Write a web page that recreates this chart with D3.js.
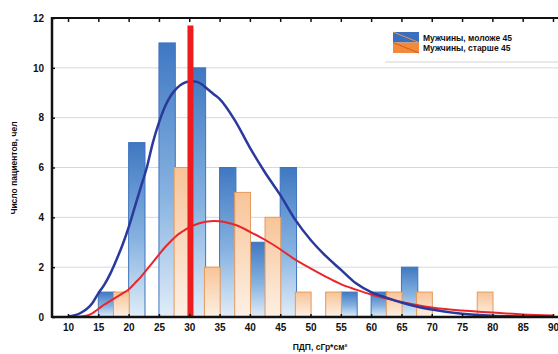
<!DOCTYPE html>
<html>
<head>
<meta charset="utf-8">
<script src="https://cdn.jsdelivr.net/npm/d3@7"></script>
<style>
  html, body { margin: 0; padding: 0; background: #fff; }
  svg { display: block; }
  text { font-family: "Liberation Sans", Arial, sans-serif; font-weight: bold; fill: #111; }
</style>
</head>
<body>
<svg id="chart" width="558" height="354"></svg>
<script>
// ---------------- DATA ----------------
const binStarts = [15, 20, 25, 30, 35, 40, 45, 50, 55, 60, 65, 70, 75];
const youngerCounts = [1, 7, 11, 10, 6, 3, 6, 0, 1, 1, 2, 0, 0];
const olderCounts   = [1, 0, 6, 2, 5, 4, 1, 1, 0, 1, 1, 0, 1];
const seriesNames = ["Мужчины, моложе 45", "Мужчины, старше 45"];

const youngerFitX = [10, 12, 14, 15, 16, 17, 18, 19, 20, 21, 22, 23, 24, 25, 26, 27, 28, 29, 30, 31, 32, 33, 34, 35, 37.5, 40, 42.5, 45, 47.5, 50, 52.5, 55, 57.5, 60, 62.5, 65, 67.5, 70, 75, 80, 85, 90];
const youngerFitY = [0.02, 0.15, 0.55, 0.95, 1.3, 1.75, 2.3, 2.9, 3.6, 4.4, 5.2, 6.0, 7.0, 7.8, 8.45, 8.9, 9.2, 9.38, 9.45, 9.45, 9.35, 9.15, 8.95, 8.75, 7.9, 6.8, 5.8, 4.9, 3.9, 3.1, 2.45, 1.9, 1.35, 1.0, 0.78, 0.58, 0.42, 0.3, 0.13, 0.05, 0.02, 0.01];

const olderFitX = [10, 12, 13, 14, 15, 16, 17, 18, 19, 20, 21, 22, 23, 24, 25, 26, 27, 28, 29, 30, 31, 32, 33, 34, 35, 36, 37, 38, 40, 42.5, 45, 47.5, 50, 52.5, 55, 57.5, 60, 62.5, 65, 67.5, 70, 75, 80, 85, 90];
const olderFitY = [0, 0.02, 0.05, 0.15, 0.32, 0.5, 0.65, 0.8, 0.95, 1.1, 1.35, 1.6, 1.9, 2.2, 2.5, 2.8, 3.05, 3.28, 3.45, 3.6, 3.7, 3.78, 3.83, 3.85, 3.84, 3.8, 3.74, 3.66, 3.42, 3.1, 2.72, 2.3, 1.95, 1.62, 1.32, 1.1, 0.9, 0.74, 0.6, 0.48, 0.38, 0.26, 0.18, 0.1, 0.06];

const refLineX = 30.2;
const refLineTop = 11.7;

const xTicks = [10, 15, 20, 25, 30, 35, 40, 45, 50, 55, 60, 65, 70, 75, 80, 85, 90];
const yTicks = [0, 2, 4, 6, 8, 10, 12];
const xTitle = "ПДП, сГр*см²";
const yTitle = "Число пациентов, чел";

// ---------------- CHART ----------------
const svg = d3.select("#chart");
const plotL = 52, plotR = 558, plotT = 18, plotB = 317;
const x = d3.scaleLinear().domain([10, 90]).range([68, 553]);
const y = d3.scaleLinear().domain([0, 12]).range([plotB, plotT]);
const binW = 5;

const defs = svg.append("defs");
const gB = defs.append("linearGradient").attr("id", "gradBlue").attr("x1", 0).attr("y1", 0).attr("x2", 0).attr("y2", 1);
gB.append("stop").attr("offset", "0%").attr("stop-color", "#3f78c2");
gB.append("stop").attr("offset", "55%").attr("stop-color", "#86b2e0");
gB.append("stop").attr("offset", "100%").attr("stop-color", "#e1edf9");
const gO = defs.append("linearGradient").attr("id", "gradOrange").attr("x1", 0).attr("y1", 0).attr("x2", 0).attr("y2", 1);
gO.append("stop").attr("offset", "0%").attr("stop-color", "#f8c497");
gO.append("stop").attr("offset", "100%").attr("stop-color", "#fdf0e5");

// gridlines
svg.append("g").selectAll("line").data(yTicks.filter(d => d > 0 && d < 12)).join("line")
  .attr("x1", plotL).attr("x2", plotR)
  .attr("y1", d => y(d)).attr("y2", d => y(d))
  .attr("stroke", "#d8d8d8").attr("stroke-width", 1);

// bars
const blueData = binStarts.map((b, i) => ({b, v: youngerCounts[i]})).filter(d => d.v > 0);
const orangeData = binStarts.map((b, i) => ({b, v: olderCounts[i]})).filter(d => d.v > 0);

svg.append("g").selectAll("rect").data(blueData).join("rect")
  .attr("x", d => x(d.b))
  .attr("width", d => x(d.b + binW * 0.54) - x(d.b))
  .attr("y", d => y(d.v))
  .attr("height", d => y(0) - y(d.v))
  .attr("fill", "url(#gradBlue)")
  .attr("stroke", "#3f74bd").attr("stroke-width", 1);

svg.append("g").selectAll("rect").data(orangeData).join("rect")
  .attr("x", d => x(d.b + binW * 0.5))
  .attr("width", d => x(d.b + binW * 1.02) - x(d.b + binW * 0.5))
  .attr("y", d => y(d.v))
  .attr("height", d => y(0) - y(d.v))
  .attr("fill", "url(#gradOrange)")
  .attr("stroke", "#e49a5c").attr("stroke-width", 1);

// fitted curves
const line = d3.line().x(d => x(d[0])).y(d => y(d[1])).curve(d3.curveMonotoneX);
svg.append("path").datum(olderFitX.map((v, i) => [v, olderFitY[i]]))
  .attr("d", line).attr("fill", "none").attr("stroke", "#e8262b").attr("stroke-width", 2);
svg.append("path").datum(youngerFitX.map((v, i) => [v, youngerFitY[i]]))
  .attr("d", line).attr("fill", "none").attr("stroke", "#2a3a9c").attr("stroke-width", 2.5);

// reference line
svg.append("line")
  .attr("x1", x(refLineX)).attr("x2", x(refLineX))
  .attr("y1", y(0)).attr("y2", y(refLineTop))
  .attr("stroke", "#ee1c1f").attr("stroke-width", 6);

// axes
const axisBottom = d3.axisBottom(x).tickValues(xTicks).tickSize(-3).tickPadding(7).tickFormat(d3.format("d"));
const gx = svg.append("g").attr("transform", `translate(0,${plotB})`).call(axisBottom);
gx.select(".domain").remove();
gx.selectAll(".tick line").attr("stroke", "#111").attr("stroke-width", 1.5);
gx.selectAll("text").attr("font-size", 10).attr("font-weight", "bold").attr("fill", "#111");

const axisTop = d3.axisTop(x).tickValues(xTicks).tickSize(-4).tickFormat("");
const gt = svg.append("g").attr("transform", `translate(0,${plotT})`).call(axisTop);
gt.select(".domain").remove();
gt.selectAll(".tick line").attr("stroke", "#111").attr("stroke-width", 1.5);

const axisLeft = d3.axisLeft(y).tickValues(yTicks).tickSize(-3).tickPadding(8).tickFormat(d3.format("d"));
const gy = svg.append("g").attr("transform", `translate(${plotL},0)`).call(axisLeft);
gy.select(".domain").remove();
gy.selectAll(".tick line").attr("stroke", "#111").attr("stroke-width", 1.5);
gy.selectAll("text").attr("font-size", 10).attr("font-weight", "bold").attr("fill", "#111");

// frame lines
svg.append("line").attr("x1", plotL).attr("x2", plotR).attr("y1", plotB).attr("y2", plotB).attr("stroke", "#111").attr("stroke-width", 2.5);
svg.append("line").attr("x1", plotL).attr("x2", plotR).attr("y1", plotT).attr("y2", plotT).attr("stroke", "#111").attr("stroke-width", 2);
svg.append("line").attr("x1", plotL).attr("x2", plotL).attr("y1", plotT - 1).attr("y2", plotB + 1).attr("stroke", "#111").attr("stroke-width", 2.5);

// titles
svg.append("text").attr("x", 320).attr("y", 350).attr("text-anchor", "middle").attr("font-size", 8.5).text(xTitle);
svg.append("text").attr("transform", "translate(17,168) rotate(-90)").attr("text-anchor", "middle").attr("font-size", 8.5).text(yTitle);

// legend
const lg = svg.append("g").attr("transform", "translate(393,32)");
lg.append("line").attr("x1", -8).attr("x2", 165).attr("y1", 30).attr("y2", 30).attr("stroke", "#e2e2e2").attr("stroke-width", 1.5);
const legendColors = [["#3f74bd", "#e49a5c"], ["#f07a2a", "#3f74bd"]];
seriesNames.forEach((name, i) => {
  const gy0 = i * 10.5;
  const fillCol = i === 0 ? "#3a6fc0" : "#f28a3a";
  lg.append("rect").attr("x", 0).attr("y", gy0).attr("width", 26).attr("height", 10.5).attr("fill", fillCol);
  lg.append("line").attr("x1", 0).attr("y1", gy0).attr("x2", 26).attr("y2", gy0 + 10.5)
    .attr("stroke", i === 0 ? "#e8924a" : "#d85a1a").attr("stroke-width", 1);
  lg.append("text").attr("x", 30).attr("y", gy0 + 8.5).attr("font-size", 8.5).text(name);
});
</script>
</body>
</html>
